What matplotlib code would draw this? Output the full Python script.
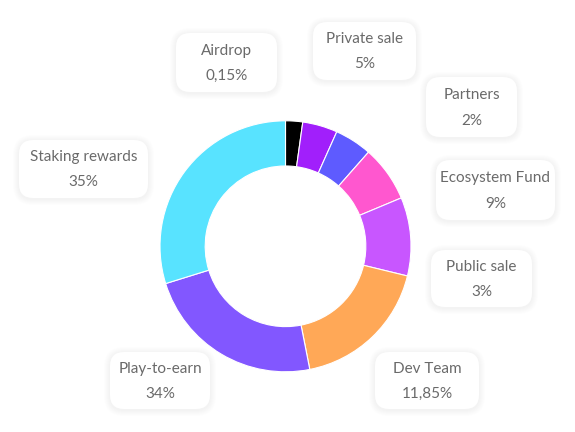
import matplotlib
matplotlib.use("Agg")
import matplotlib.pyplot as plt
from matplotlib.patches import FancyBboxPatch

# slice sizes as drawn (clockwise from 12 o'clock)
shares = [2.2, 4.5, 4.8, 7.2, 10.1, 18.1, 23.3, 29.8]
colors = ["#000000", "#a11ffb", "#5e5bff", "#ff57cf", "#c856ff",
          "#ffa857", "#8257ff", "#58e3ff"]

# callout texts
names = ["Airdrop", "Private sale", "Partners", "Ecosystem Fund",
         "Public sale", "Dev Team", "Play-to-earn", "Staking rewards"]
pcts = ["0,15%", "5%", "2%", "9%", "3%", "11,85%", "34%", "35%"]

# callout boxes in pixels: left, top, right, bottom
boxes = [(176, 33, 277, 92), (313, 22, 416, 80), (426, 77, 517, 137),
         (436, 160, 555, 220), (431, 250, 532, 307), (375, 352, 479, 409),
         (110, 352, 210, 409), (19, 140, 148, 198)]

W, H = 575, 432
fig = plt.figure(figsize=(W / 100, H / 100), dpi=100)
ax = fig.add_axes([0, 0, 1, 1])

cx, cy, r = 285.5, 246.3, 125.5
ax.pie(shares, colors=colors, startangle=90, counterclock=False,
       center=(cx, H - cy), radius=r,
       wedgeprops=dict(width=r * 0.36, edgecolor="white", linewidth=0.8))

for (x0, y0, x1, y1), name, pct in zip(boxes, names, pcts):
    w, h = x1 - x0, y1 - y0
    # soft shadow, built from faint layers
    for k in range(1, 7):
        ax.add_patch(FancyBboxPatch((x0 - k, H - y1 - k - 1), w + 2 * k, h + 2 * k,
                                    boxstyle="round,pad=0,rounding_size=%g" % (14 + k),
                                    facecolor="black", edgecolor="none", alpha=0.006, zorder=3))
    ax.add_patch(FancyBboxPatch((x0, H - y1), w, h,
                                boxstyle="round,pad=0,rounding_size=14",
                                facecolor="white", edgecolor="none", zorder=4))
    xc = (x0 + x1) / 2
    ax.text(xc, H - (y0 + h * 0.30), name, ha="center", va="center",
            fontsize=11, color="#6a6a6a", family="Lato", zorder=5)
    ax.text(xc, H - (y0 + h * 0.73), pct, ha="center", va="center",
            fontsize=11, color="#6a6a6a", family="Lato", zorder=5)

ax.set_xlim(0, W)
ax.set_ylim(0, H)
ax.set_aspect("equal")
ax.set_axis_off()

fig.savefig("out.png", dpi=100)
